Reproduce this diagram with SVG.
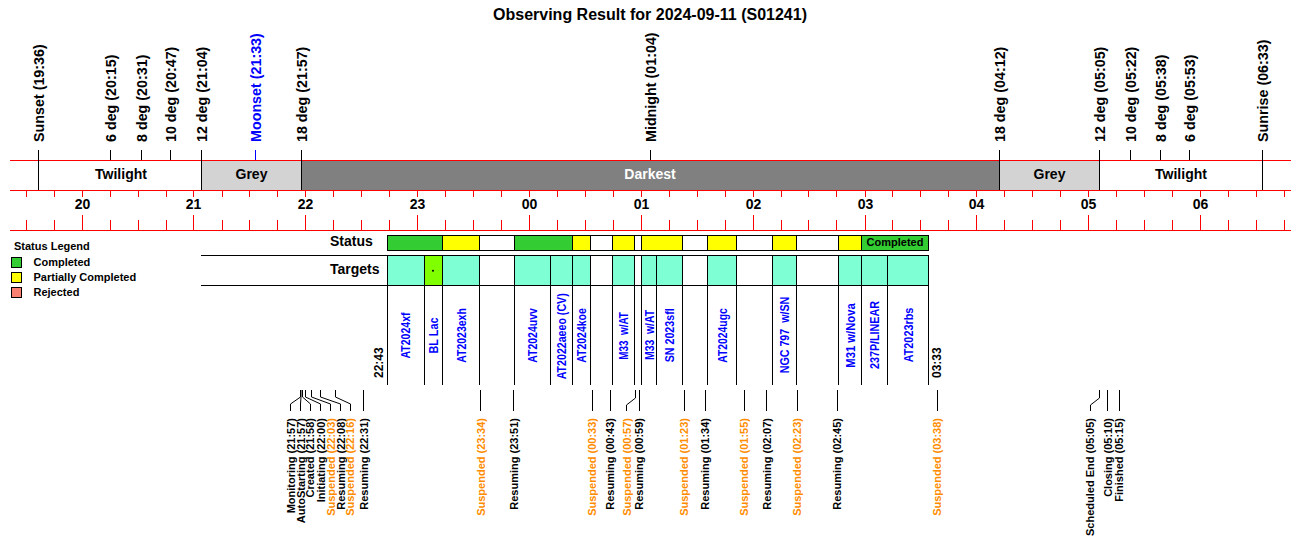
<svg xmlns="http://www.w3.org/2000/svg" width="1300" height="560" viewBox="0 0 1300 560">
<style>
text{font-family:"Liberation Sans",Arial,sans-serif;font-weight:bold;fill:#000}
.title{font-size:16px}
.big{font-size:14px}
.top{font-size:14.3px}
.ev{font-size:11px}
.leg{font-size:11px}
.tg{font-size:13px;fill:#0000ff}
.tm{font-size:12px}
.or{fill:#ff8c00}
.bl{fill:#0000ff}
.wh{fill:#fff}
.red{stroke:#ff0000;stroke-width:1;fill:none}
.blk{stroke:#000;stroke-width:1;fill:none}
.box{stroke:#000;stroke-width:1}
.g{fill:#33cc33}.y{fill:#ffff00}.w{fill:#fff}.c{fill:#7fffd4}.ch{fill:#7fff00}.s{fill:#fa8072}
</style>
<rect width="1300" height="560" fill="#fff"/>
<text id="title" class="title" x="650" y="20" text-anchor="middle">Observing Result for 2024-09-11 (S01241)</text>

<g id="band">
<rect x="201.5" y="160.5" width="100" height="30" fill="#d3d3d3"/>
<rect x="301.5" y="160.5" width="698" height="30" fill="#808080"/>
<rect x="999.5" y="160.5" width="100" height="30" fill="#d3d3d3"/>
<text class="big" x="121" y="179" text-anchor="middle">Twilight</text>
<text class="big" x="251.5" y="179" text-anchor="middle">Grey</text>
<text class="big wh" x="650" y="179" text-anchor="middle">Darkest</text>
<text class="big" x="1049.5" y="179" text-anchor="middle">Grey</text>
<text class="big" x="1181" y="179" text-anchor="middle">Twilight</text>
</g>

<g id="axis">
<path class="red" d="M10 160.5H1291M10 190.5H1291M10 230.5H1291"/>
<path class="red" d="M26.5 190V197M54.5 190V197M82.5 190V197M110.5 190V197M138.5 190V197M166.5 190V197M193.5 190V197M222.5 190V197M249.5 190V197M277.5 190V197M305.5 190V197M333.5 190V197M361.5 190V197M389.5 190V197M417.5 190V197M445.5 190V197M473.5 190V197M501.5 190V197M529.5 190V197M557.5 190V197M585.5 190V197M613.5 190V197M641.5 190V197M669.5 190V197M697.5 190V197M725.5 190V197M753.5 190V197M781.5 190V197M808.5 190V197M836.5 190V197M865.5 190V197M892.5 190V197M920.5 190V197M948.5 190V197M976.5 190V197M1004.5 190V197M1032.5 190V197M1060.5 190V197M1088.5 190V197M1116.5 190V197M1144.5 190V197M1172.5 190V197M1200.5 190V197M1228.5 190V197M1256.5 190V197M1284.5 190V197"/>
<path class="red" d="M26.5 220V230M54.5 220V230M82.5 215V230M110.5 220V230M138.5 220V230M166.5 220V230M193.5 215V230M222.5 220V230M249.5 220V230M277.5 220V230M305.5 215V230M333.5 220V230M361.5 220V230M389.5 220V230M417.5 215V230M445.5 220V230M473.5 220V230M501.5 220V230M529.5 215V230M557.5 220V230M585.5 220V230M613.5 220V230M641.5 215V230M669.5 220V230M697.5 220V230M725.5 220V230M753.5 215V230M781.5 220V230M808.5 220V230M836.5 220V230M865.5 215V230M892.5 220V230M920.5 220V230M948.5 220V230M976.5 215V230M1004.5 220V230M1032.5 220V230M1060.5 220V230M1088.5 215V230M1116.5 220V230M1144.5 220V230M1172.5 220V230M1200.5 215V230M1228.5 220V230M1256.5 220V230M1284.5 220V230"/>
<g class="big" text-anchor="middle">
<text x="82.5" y="209">20</text><text x="193.5" y="209">21</text><text x="305.5" y="209">22</text><text x="417.5" y="209">23</text><text x="529.5" y="209">00</text><text x="641.5" y="209">01</text><text x="753.5" y="209">02</text><text x="865.5" y="209">03</text><text x="976.5" y="209">04</text><text x="1088.5" y="209">05</text><text x="1200.5" y="209">06</text>
</g>
</g>

<g id="sun-events">
<path class="blk" d="M38.5 150V190M110.5 150V160M141.5 150V160M170.5 150V160M201.5 150V190M301.5 150V190M650.5 150V160M999.5 150V190M1099.5 150V190M1130.5 150V160M1160.5 150V160M1189.5 150V160M1262.5 150V190"/>
<path d="M255.5 150V160" stroke="#0000ff" stroke-width="1"/>
<g class="top" text-anchor="start">
<text transform="translate(38.5,142) rotate(-90)" dy="0.35em">Sunset (19:36)</text>
<text transform="translate(110.5,142) rotate(-90)" dy="0.35em">6 deg (20:15)</text>
<text transform="translate(141.5,142) rotate(-90)" dy="0.35em">8 deg (20:31)</text>
<text transform="translate(170.5,142) rotate(-90)" dy="0.35em">10 deg (20:47)</text>
<text transform="translate(201.5,142) rotate(-90)" dy="0.35em">12 deg (21:04)</text>
<text class="bl" transform="translate(255.5,142) rotate(-90)" dy="0.35em">Moonset (21:33)</text>
<text transform="translate(301.5,142) rotate(-90)" dy="0.35em">18 deg (21:57)</text>
<text transform="translate(650.5,142) rotate(-90)" dy="0.35em">Midnight (01:04)</text>
<text transform="translate(999.5,142) rotate(-90)" dy="0.35em">18 deg (04:12)</text>
<text transform="translate(1099.5,142) rotate(-90)" dy="0.35em">12 deg (05:05)</text>
<text transform="translate(1130.5,142) rotate(-90)" dy="0.35em">10 deg (05:22)</text>
<text transform="translate(1160.5,142) rotate(-90)" dy="0.35em">8 deg (05:38)</text>
<text transform="translate(1189.5,142) rotate(-90)" dy="0.35em">6 deg (05:53)</text>
<text transform="translate(1262.5,142) rotate(-90)" dy="0.35em">Sunrise (06:33)</text>
</g>
</g>

<g id="legend">
<text class="leg" x="14" y="250">Status Legend</text>
<rect class="box g" x="11.5" y="257.5" width="10" height="10"/>
<text class="leg" x="33.5" y="265.7">Completed</text>
<rect class="box y" x="11.5" y="272.5" width="10" height="10"/>
<text class="leg" x="33.5" y="280.7">Partially Completed</text>
<rect class="box s" x="11.5" y="287.5" width="10" height="10"/>
<text class="leg" x="33.5" y="295.7">Rejected</text>
</g>

<g id="status-row">
<text class="big" x="330" y="245.7">Status</text>
<rect class="box g" x="387.5" y="235.5" width="55" height="15"/>
<rect class="box y" x="442.5" y="235.5" width="37" height="15"/>
<rect class="box w" x="479.5" y="235.5" width="35" height="15"/>
<rect class="box g" x="514.5" y="235.5" width="58" height="15"/>
<rect class="box y" x="572.5" y="235.5" width="18" height="15"/>
<rect class="box w" x="590.5" y="235.5" width="22" height="15"/>
<rect class="box y" x="612.5" y="235.5" width="22" height="15"/>
<rect class="box w" x="634.5" y="235.5" width="7" height="15"/>
<rect class="box y" x="641.5" y="235.5" width="41" height="15"/>
<rect class="box w" x="682.5" y="235.5" width="25" height="15"/>
<rect class="box y" x="707.5" y="235.5" width="29" height="15"/>
<rect class="box w" x="736.5" y="235.5" width="36" height="15"/>
<rect class="box y" x="772.5" y="235.5" width="24" height="15"/>
<rect class="box w" x="796.5" y="235.5" width="42" height="15"/>
<rect class="box y" x="838.5" y="235.5" width="23" height="15"/>
<rect class="box g" x="861.5" y="235.5" width="67" height="15"/>
<text class="leg" x="895" y="246" text-anchor="middle">Completed</text>
</g>

<g id="targets-row">
<text class="big" x="330" y="274">Targets</text>
<path class="blk" d="M201 255.5H928.5M201 285.5H928.5"/>
<rect class="box w" x="479.5" y="255.5" width="35" height="30"/>
<rect class="box w" x="590.5" y="255.5" width="22" height="30"/>
<rect class="box w" x="634.5" y="255.5" width="7" height="30"/>
<rect class="box w" x="682.5" y="255.5" width="25" height="30"/>
<rect class="box w" x="736.5" y="255.5" width="36" height="30"/>
<rect class="box w" x="796.5" y="255.5" width="42" height="30"/>
<path class="blk" d="M387.5 285.5V385M424.5 285.5V385M442.5 285.5V385M479.5 285.5V385M514.5 285.5V385M550.5 285.5V385M572.5 285.5V385M590.5 285.5V385M612.5 285.5V385M634.5 285.5V385M641.5 285.5V385M656.5 285.5V385M682.5 285.5V385M707.5 285.5V385M736.5 285.5V385M772.5 285.5V385M796.5 285.5V385M838.5 285.5V385M861.5 285.5V385M887.5 285.5V385M928.5 285.5V385"/>
<text class="tm" transform="translate(378.3,378) rotate(-90)" dy="0.35em">22:43</text>
<text class="tm" transform="translate(936.7,378) rotate(-90)" dy="0.35em">03:33</text>
</g>

<g id="target-AT2024xf"><rect class="box c" x="387.5" y="255.5" width="37" height="30"/><text class="tg" transform="translate(405.5,335.5) rotate(-90)" dy="0.35em" text-anchor="middle" textLength="46" lengthAdjust="spacingAndGlyphs">AT2024xf</text></g>
<g id="target-BLLac"><rect class="box ch" x="424.5" y="255.5" width="18" height="30"/><circle cx="433" cy="270.7" r="1" fill="#000"/><text class="tg" transform="translate(433.5,335.5) rotate(-90)" dy="0.35em" text-anchor="middle" textLength="36" lengthAdjust="spacingAndGlyphs">BL Lac</text></g>
<g id="target-AT2023exh"><rect class="box c" x="442.5" y="255.5" width="37" height="30"/><text class="tg" transform="translate(461,335.5) rotate(-90)" dy="0.35em" text-anchor="middle" textLength="54.7" lengthAdjust="spacingAndGlyphs">AT2023exh</text></g>
<g id="target-AT2024uvv"><rect class="box c" x="514.5" y="255.5" width="36" height="30"/><text class="tg" transform="translate(532.5,335.5) rotate(-90)" dy="0.35em" text-anchor="middle" textLength="54.7" lengthAdjust="spacingAndGlyphs">AT2024uvv</text></g>
<g id="target-AT2022aeeo"><rect class="box c" x="550.5" y="255.5" width="22" height="30"/><text class="tg" transform="translate(561.5,336.3) rotate(-90)" dy="0.35em" text-anchor="middle" textLength="86" lengthAdjust="spacingAndGlyphs">AT2022aeeo (CV)</text></g>
<g id="target-AT2024koe"><rect class="box c" x="572.5" y="255.5" width="18" height="30"/><text class="tg" transform="translate(581.5,335.5) rotate(-90)" dy="0.35em" text-anchor="middle" textLength="54.7" lengthAdjust="spacingAndGlyphs">AT2024koe</text></g>
<g id="target-M33a"><rect class="box c" x="612.5" y="255.5" width="22" height="30"/><text class="tg" xml:space="preserve" transform="translate(623.5,336) rotate(-90)" dy="0.35em" text-anchor="middle" textLength="47.7" lengthAdjust="spacingAndGlyphs">M33  w/AT</text></g>
<g id="target-M33b"><rect class="box c" x="641.5" y="255.5" width="15" height="30"/><text class="tg" xml:space="preserve" transform="translate(649.5,335) rotate(-90)" dy="0.35em" text-anchor="middle" textLength="50" lengthAdjust="spacingAndGlyphs">M33  w/AT</text></g>
<g id="target-SN2023sfl"><rect class="box c" x="656.5" y="255.5" width="26" height="30"/><text class="tg" transform="translate(669.5,335.3) rotate(-90)" dy="0.35em" text-anchor="middle" textLength="54" lengthAdjust="spacingAndGlyphs">SN 2023sfl</text></g>
<g id="target-AT2024ugc"><rect class="box c" x="707.5" y="255.5" width="29" height="30"/><text class="tg" transform="translate(722,335.5) rotate(-90)" dy="0.35em" text-anchor="middle" textLength="54.7" lengthAdjust="spacingAndGlyphs">AT2024ugc</text></g>
<g id="target-NGC797"><rect class="box c" x="772.5" y="255.5" width="24" height="30"/><text class="tg" xml:space="preserve" transform="translate(784.5,335) rotate(-90)" dy="0.35em" text-anchor="middle" textLength="76.7" lengthAdjust="spacingAndGlyphs">NGC 797  w/SN</text></g>
<g id="target-M31"><rect class="box c" x="838.5" y="255.5" width="23" height="30"/><text class="tg" transform="translate(850,335.5) rotate(-90)" dy="0.35em" text-anchor="middle" textLength="64.3" lengthAdjust="spacingAndGlyphs">M31 w/Nova</text></g>
<g id="target-237P"><rect class="box c" x="861.5" y="255.5" width="26" height="30"/><text class="tg" transform="translate(874.5,335) rotate(-90)" dy="0.35em" text-anchor="middle" textLength="68" lengthAdjust="spacingAndGlyphs">237P/LINEAR</text></g>
<g id="target-AT2023rbs"><rect class="box c" x="887.5" y="255.5" width="41" height="30"/><text class="tg" transform="translate(908,335) rotate(-90)" dy="0.35em" text-anchor="middle" textLength="54.7" lengthAdjust="spacingAndGlyphs">AT2023rbs</text></g>

<g id="connectors">
<path class="blk" d="M300.5 390V397L290.5 404V411"/>
<path class="blk" d="M301 390V397L300.5 404V411"/>
<path class="blk" d="M302.5 390V397L310.5 404V411"/>
<path class="blk" d="M305.5 390V397L320.5 404V411"/>
<path class="blk" d="M311.5 390V397L330.5 404V411"/>
<path class="blk" d="M320.5 390V397L340.5 404V411"/>
<path class="blk" d="M335.5 390V397L350.5 404V411"/>
<path class="blk" d="M363.5 390V411"/>
<path class="blk" d="M480.5 390V411M513.5 390V411M592.5 390V411M610.5 390V411M639.5 390V411M684.5 390V411M705.5 390V411M744.5 390V411M766.5 390V411M797.5 390V411M837.5 390V411M937.5 390V411M1107.5 390V411M1119.5 390V411"/>
<path class="blk" d="M635.5 390V398L626.5 405V411"/>
<path class="blk" d="M1099.5 390V398L1090.5 405V411"/>
</g>

<g id="events" class="ev" text-anchor="end">
<text class="ev" transform="translate(290.7,418) rotate(-90)" dy="0.35em">Monitoring (21:57)</text>
<text class="ev" transform="translate(300.7,418) rotate(-90)" dy="0.35em">AutoStarting (21:57)</text>
<text class="ev" transform="translate(310.5,418) rotate(-90)" dy="0.35em">Created (21:58)</text>
<text class="ev" transform="translate(320.7,418) rotate(-90)" dy="0.35em">Initiating (22:00)</text>
<text class="ev or" transform="translate(330.7,418) rotate(-90)" dy="0.35em">Suspended (22:03)</text>
<text class="ev" transform="translate(340.7,418) rotate(-90)" dy="0.35em">Resuming (22:08)</text>
<text class="ev or" transform="translate(350.5,418) rotate(-90)" dy="0.35em">Suspended (22:16)</text>
<text class="ev" transform="translate(364,418) rotate(-90)" dy="0.35em">Resuming (22:31)</text>
<text class="ev or" transform="translate(480.7,418) rotate(-90)" dy="0.35em">Suspended (23:34)</text>
<text class="ev" transform="translate(513.7,418) rotate(-90)" dy="0.35em">Resuming (23:51)</text>
<text class="ev or" transform="translate(592.3,418) rotate(-90)" dy="0.35em">Suspended (00:33)</text>
<text class="ev" transform="translate(610.3,418) rotate(-90)" dy="0.35em">Resuming (00:43)</text>
<text class="ev or" transform="translate(626.7,418) rotate(-90)" dy="0.35em">Suspended (00:57)</text>
<text class="ev" transform="translate(639.3,418) rotate(-90)" dy="0.35em">Resuming (00:59)</text>
<text class="ev or" transform="translate(684.3,418) rotate(-90)" dy="0.35em">Suspended (01:23)</text>
<text class="ev" transform="translate(705.3,418) rotate(-90)" dy="0.35em">Resuming (01:34)</text>
<text class="ev or" transform="translate(744.3,418) rotate(-90)" dy="0.35em">Suspended (01:55)</text>
<text class="ev" transform="translate(766.7,418) rotate(-90)" dy="0.35em">Resuming (02:07)</text>
<text class="ev or" transform="translate(797.3,418) rotate(-90)" dy="0.35em">Suspended (02:23)</text>
<text class="ev" transform="translate(837.3,418) rotate(-90)" dy="0.35em">Resuming (02:45)</text>
<text class="ev or" transform="translate(937.3,418) rotate(-90)" dy="0.35em">Suspended (03:38)</text>
<text class="ev" transform="translate(1090,418) rotate(-90)" dy="0.35em">Scheduled End (05:05)</text>
<text class="ev" transform="translate(1107.7,418) rotate(-90)" dy="0.35em">Closing (05:10)</text>
<text class="ev" transform="translate(1119,418) rotate(-90)" dy="0.35em">Finished (05:15)</text>
</g>
</svg>
